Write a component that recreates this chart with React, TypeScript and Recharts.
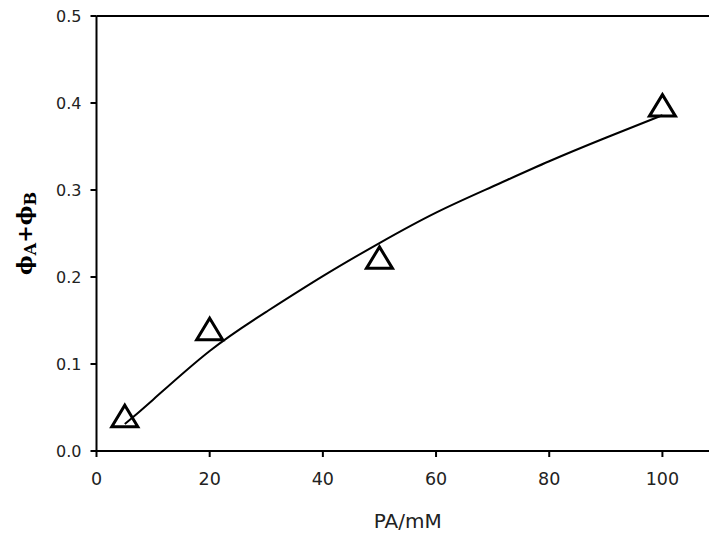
import React from "react";
import {
  ComposedChart,
  Line,
  Scatter,
  XAxis,
  YAxis,
  ReferenceLine,
} from "recharts";

// measured points (PA concentration, quantum yield sum)
const paConc = [5, 20, 50, 100];
const phiSum = [0.04, 0.14, 0.222, 0.397];

// fitted curve
const fitX = [5, 10, 20, 30, 40, 50, 60, 70, 80, 90, 100];
const fitY = [0.031, 0.059, 0.115, 0.16, 0.201, 0.239, 0.274, 0.304, 0.333, 0.36, 0.386];

const xTicks = [0, 20, 40, 60, 80, 100];
const yTicks = [0, 0.1, 0.2, 0.3, 0.4, 0.5];

const points = paConc.map((x, i) => ({ x, y: phiSum[i] }));
const fit = fitX.map((x, i) => ({ x, y: fitY[i] }));

const tickFont = "'DejaVu Sans', Verdana, sans-serif";

function Triangle(props: any) {
  const { cx, cy } = props;
  if (cx == null || cy == null) return null;
  const hw = 13;
  const d = `M${cx},${cy - 11} L${cx + hw},${cy + 10.5} L${cx - hw},${cy + 10.5} Z`;
  return <path d={d} fill="none" stroke="#000" strokeWidth={3} strokeLinejoin="miter" />;
}

function YLabel(props: any) {
  const vb = props.viewBox || { x: 0, y: 16, width: 96, height: 435 };
  const cx = 26;
  const cy = vb.y + vb.height / 2;
  return (
    <text
      transform={`translate(${cx},${cy}) rotate(-90)`}
      textAnchor="middle"
      dominantBaseline="middle"
      fontFamily="'DejaVu Serif', 'Liberation Serif', serif"
      fontWeight="bold"
      fontSize={21}
      fill="#000"
    >
      ϕ<tspan fontSize={16} dy={5}>A</tspan>
      <tspan dy={-5}>+</tspan>ϕ<tspan fontSize={16} dy={5}>B</tspan>
    </text>
  );
}

export default function App() {
  return (
    <div
      style={{
        position: "absolute",
        left: 0,
        top: 0,
        width: 709,
        height: 533,
        overflow: "hidden",
        background: "#fff",
      }}
    >
      <ComposedChart
        width={720}
        height={533}
        margin={{ top: 16, right: 1, bottom: 0, left: 0 }}
      >
        <XAxis
          type="number"
          dataKey="x"
          domain={[0, 110]}
          ticks={xTicks}
          allowDataOverflow
          height={82}
          axisLine={{ stroke: "#000", strokeWidth: 2 }}
          tickLine={{ stroke: "#000", strokeWidth: 2 }}
          tickSize={6}
          tickMargin={16}
          tick={{ fontSize: 17.5, fill: "#222", fontFamily: tickFont }}
          label={{
            value: "PA/mM",
            position: "insideBottom",
            offset: 5,
            style: { fontSize: 20, fill: "#222", fontFamily: tickFont },
          }}
        />
        <YAxis
          type="number"
          dataKey="y"
          domain={[0, 0.5]}
          ticks={yTicks}
          width={96.5}
          axisLine={{ stroke: "#000", strokeWidth: 2 }}
          tickLine={{ stroke: "#000", strokeWidth: 2 }}
          tickSize={6}
          tickMargin={9}
          tickFormatter={(v: number) => v.toFixed(1)}
          tick={{ fontSize: 16, fill: "#222", fontFamily: tickFont }}
          label={{ content: YLabel }}
        />
        <ReferenceLine y={0.5} stroke="#000" strokeWidth={2} />
        <Line
          data={fit}
          dataKey="y"
          type="natural"
          stroke="#000"
          strokeWidth={2}
          dot={false}
          activeDot={false}
          isAnimationActive={false}
        />
        <Scatter
          data={points}
          dataKey="y"
          shape={(p: any) => <Triangle {...p} />}
          isAnimationActive={false}
        />
      </ComposedChart>
    </div>
  );
}
